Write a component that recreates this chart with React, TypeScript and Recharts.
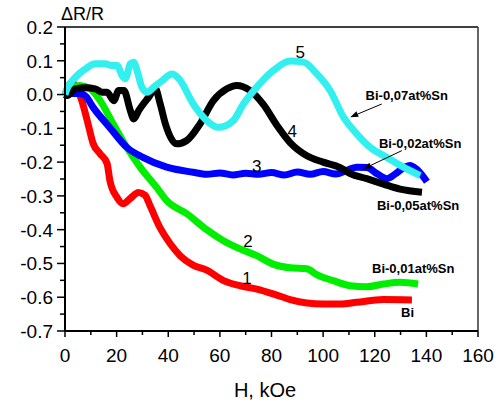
import React from 'react';
import { LineChart, Line, XAxis, YAxis, ReferenceLine, ReferenceDot } from 'recharts';

// Curve 1: Bi
const BI_H = [0, 2.6, 4.5, 6.5, 8.9, 10.9, 13.6, 16.3, 17.4, 20.2, 22.5, 25.2, 28.5, 31, 33, 36.8, 40.7, 44.6, 49.6, 54.9, 61.2, 67.8, 74.3, 80.6, 87.2, 93.7, 100, 106.6, 113, 123.3, 134.4];
const BI_R = [0, 0.036, 0.02, -0.018, -0.086, -0.145, -0.175, -0.204, -0.255, -0.305, -0.323, -0.308, -0.29, -0.298, -0.33, -0.394, -0.441, -0.477, -0.505, -0.52, -0.55, -0.566, -0.576, -0.59, -0.607, -0.617, -0.62, -0.62, -0.615, -0.607, -0.608];

// Curve 2: Bi-0,01at%Sn
const SN01_H = [0, 2.7, 5.8, 9.7, 13.6, 18.6, 23.9, 29.1, 35.5, 39.4, 47.2, 54.9, 61.2, 67.8, 74.3, 80.6, 87.2, 93.7, 97.5, 103.9, 110.5, 116.9, 123.3, 129.8, 136.8];
const SN01_R = [0, 0.018, 0.027, 0.018, -0.018, -0.086, -0.156, -0.215, -0.275, -0.314, -0.353, -0.4, -0.432, -0.457, -0.477, -0.502, -0.513, -0.516, -0.533, -0.551, -0.566, -0.569, -0.561, -0.556, -0.561];

// Curve 3: Bi-0,02at%Sn
const SN02_H = [0, 1.9, 5.8, 8.1, 10.9, 17.4, 23.9, 30.2, 39.4, 49.6, 55, 60, 65, 70, 75, 80, 85, 90, 95, 100, 105, 110, 113, 117, 121, 124.7, 128, 131, 133.7, 136, 138, 140.2];
const SN02_R = [-0.005, 0.003, 0.003, -0.006, -0.038, -0.098, -0.156, -0.186, -0.215, -0.23, -0.236, -0.232, -0.238, -0.233, -0.236, -0.231, -0.238, -0.229, -0.236, -0.228, -0.235, -0.222, -0.215, -0.216, -0.235, -0.249, -0.235, -0.218, -0.21, -0.22, -0.235, -0.258];

// Curve 4: Bi-0,05at%Sn
const SN05_H = [0, 0.8, 4, 7.9, 11.7, 14.3, 16.3, 18.9, 20.8, 22.8, 25.3, 26.6, 28.6, 32.4, 35, 36.9, 38.9, 43.3, 47.2, 52.3, 57.5, 62.7, 66.5, 71.7, 76.9, 82, 87.2, 93.7, 100, 106.6, 110.5, 116.9, 123.4, 129.8, 138.3];
const SN05_R = [0, -0.003, 0.017, 0.02, 0.017, 0.007, 0.007, -0.018, 0.012, 0.012, -0.047, -0.072, -0.047, -0.008, 0.017, -0.028, -0.087, -0.146, -0.136, -0.087, -0.018, 0.017, 0.027, 0.012, -0.03, -0.09, -0.142, -0.181, -0.2, -0.216, -0.234, -0.249, -0.265, -0.28, -0.289];

// Curve 5: Bi-0,07at%Sn
const SN07_H = [0, 0.8, 4, 7.9, 11.7, 15.6, 18.2, 20.2, 22.1, 23.4, 25.3, 26.6, 27.9, 29.8, 31.8, 34.4, 37.6, 41.5, 44.1, 49.7, 54.9, 59.4, 65.2, 69.1, 74.3, 80.7, 87.2, 92.4, 97.6, 102.7, 107.9, 113.1, 118.2, 124.7, 131.1, 137.6];
const SN07_R = [0, 0.017, 0.051, 0.076, 0.091, 0.091, 0.086, 0.086, 0.056, 0.047, 0.091, 0.096, 0.071, 0.022, 0.007, 0.022, 0.041, 0.061, 0.047, -0.028, -0.077, -0.097, -0.077, -0.028, 0.022, 0.071, 0.099, 0.096, 0.061, 0.012, -0.067, -0.117, -0.156, -0.186, -0.215, -0.24];

const X_MAJOR = [0, 20, 40, 60, 80, 100, 120, 140, 160];
const X_MINOR = [10, 30, 50, 70, 90, 110, 130, 150];
const Y_MAJOR = [-0.7, -0.6, -0.5, -0.4, -0.3, -0.2, -0.1, 0, 0.1, 0.2];
const Y_MINOR = [-0.65, -0.55, -0.45, -0.35, -0.25, -0.15, -0.05, 0.05, 0.15];

// Curve number labels and sample labels (data coordinates)
const NUM_LABELS = ['1', '2', '3', '4', '5'];
const NUM_H = [70.5, 70.9, 74.3, 88, 91.1];
const NUM_R = [-0.542, -0.432, -0.21, -0.108, 0.125];
const NAME_LABELS = ['Bi', 'Bi-0,01at%Sn', 'Bi-0,02at%Sn', 'Bi-0,05at%Sn', 'Bi-0,07at%Sn'];
const NAME_H = [132.7, 134.9, 137.6, 136.8, 132.4];
const NAME_R = [-0.646, -0.515, -0.145, -0.329, -0.003];
// arrows: [from, to]
const ARROW_07 = [{ x: 122.7, y: -0.028 }, { x: 110.5, y: -0.067 }];
const ARROW_02 = [{ x: 130.5, y: -0.166 }, { x: 115.6, y: -0.22 }];

const FONT = '"Liberation Sans", Arial, Helvetica, sans-serif';

const zip = (h: number[], r: number[]) => h.map((x, i) => ({ h: x, r: r[i] }));

const YTick = (props: any) => {
  const { x, y, payload } = props;
  const v = payload.value;
  const major = Y_MAJOR.some((m) => Math.abs(m - v) < 1e-6);
  if (!major) {
    return <line x1={x - 5} x2={x} y1={y} y2={y} stroke="#000" strokeWidth={1.5} />;
  }
  return (
    <g>
      <line x1={x - 8} x2={x} y1={y} y2={y} stroke="#000" strokeWidth={1.5} />
      <text x={x - 12} y={y} dy="0.36em" textAnchor="end" fontSize={19} fontFamily={FONT} fill="#000">
        {Math.abs(v) < 1e-9 ? '0.0' : v.toFixed(1)}
      </text>
    </g>
  );
};

const XTick = (props: any) => {
  const { x, y, payload } = props;
  const v = payload.value;
  const major = X_MAJOR.includes(v);
  if (!major) {
    return <line x1={x} x2={x} y1={y} y2={y + 4} stroke="#000" strokeWidth={1.5} />;
  }
  return (
    <g>
      <line x1={x} x2={x} y1={y} y2={y + 6} stroke="#000" strokeWidth={1.5} />
      <text x={x} y={y + 24} dy="0.36em" textAnchor="middle" fontSize={19} fontFamily={FONT} fill="#000">
        {String(v)}
      </text>
    </g>
  );
};

const Arrow = (props: any) => {
  const { x1, y1, x2, y2 } = props;
  const ang = Math.atan2(y2 - y1, x2 - x1);
  const L = 8;
  const W = 3;
  const bx = x2 - L * Math.cos(ang);
  const by = y2 - L * Math.sin(ang);
  const px = -Math.sin(ang) * W;
  const py = Math.cos(ang) * W;
  return (
    <g>
      <line x1={x1} y1={y1} x2={bx} y2={by} stroke="#000" strokeWidth={1} />
      <polygon points={`${x2},${y2} ${bx + px},${by + py} ${bx - px},${by - py}`} fill="#000" />
    </g>
  );
};

const textShape = (label: string, size: number, bold: boolean) => (p: any) => (
  <text x={p.cx} y={p.cy} dy="0.36em" textAnchor="middle" fontSize={size} fontWeight={bold ? 'bold' : 'normal'} fontFamily={FONT} fill="#000">
    {label}
  </text>
);

export default function App() {
  const yTicks = [...Y_MAJOR, ...Y_MINOR].sort((a, b) => a - b);
  const xTicks = [...X_MAJOR, ...X_MINOR].sort((a, b) => a - b);
  return (
    <div style={{ position: 'absolute', left: 0, top: 0, width: 500, height: 403, background: '#fff' }}>
      <LineChart width={500} height={403} margin={{ top: 27, right: 22, bottom: 2, left: 5 }}>
        <XAxis
          type="number"
          dataKey="h"
          domain={[0, 160]}
          ticks={xTicks}
          interval={0}
          height={70}
          tickSize={0}
          tickMargin={0}
          tickLine={false}
          axisLine={{ stroke: '#000', strokeWidth: 2 }}
          tick={<XTick />}
        />
        <YAxis
          type="number"
          domain={[-0.7, 0.2]}
          ticks={yTicks}
          interval={0}
          width={60}
          tickSize={0}
          tickMargin={0}
          tickLine={false}
          allowDataOverflow
          axisLine={{ stroke: '#000', strokeWidth: 2 }}
          tick={<YTick />}
        />
        <ReferenceLine y={0.2} stroke="#000" strokeWidth={1.5} />
        <ReferenceLine x={160} stroke="#333" strokeWidth={1.5} />
        <Line data={zip(BI_H, BI_R)} dataKey="r" type="monotone" stroke="#ff0000" strokeWidth={7} dot={false} isAnimationActive={false} />
        <Line data={zip(SN01_H, SN01_R)} dataKey="r" type="monotone" stroke="#00ee00" strokeWidth={7} dot={false} isAnimationActive={false} />
        <Line data={zip(SN02_H, SN02_R)} dataKey="r" type="monotone" stroke="#0000ff" strokeWidth={7} dot={false} isAnimationActive={false} />
        <Line data={zip(SN05_H, SN05_R)} dataKey="r" type="monotone" stroke="#000000" strokeWidth={7} dot={false} isAnimationActive={false} />
        <Line data={zip(SN07_H, SN07_R)} dataKey="r" type="monotone" stroke="#33f0f0" strokeWidth={7} dot={false} isAnimationActive={false} />
        <ReferenceLine segment={ARROW_07} shape={<Arrow />} ifOverflow="visible" />
        <ReferenceLine segment={ARROW_02} shape={<Arrow />} ifOverflow="visible" />
        {NUM_LABELS.map((t, i) => (
          <ReferenceDot key={'n' + t} x={NUM_H[i]} y={NUM_R[i]} r={0} shape={textShape(t, 17, false)} />
        ))}
        {NAME_LABELS.map((t, i) => (
          <ReferenceDot key={'l' + t} x={NAME_H[i]} y={NAME_R[i]} r={0} shape={textShape(t, 13, true)} />
        ))}
        <text x={61} y={14} dy="0.36em" fontSize={18} fontFamily={FONT} fill="#000">ΔR/R</text>
        <text x={265} y={390} dy="0.36em" textAnchor="middle" fontSize={20} fontFamily={FONT} fill="#000">H, kOe</text>
      </LineChart>
    </div>
  );
}
